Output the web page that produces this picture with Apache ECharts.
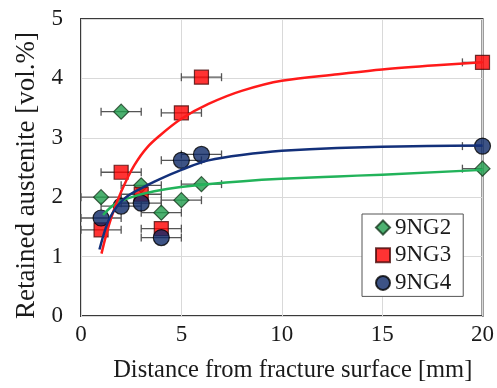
<!DOCTYPE html>
<html>
<head>
<meta charset="utf-8">
<script src="https://cdn.jsdelivr.net/npm/echarts@6/dist/echarts.min.js"></script>
<style>
html,body{margin:0;padding:0;background:#fff;}
#chart{width:497px;height:388px;}
</style>
</head>
<body>
<div id="chart"></div>
<script>
// Measured data (distance from fracture surface [mm], retained austenite [vol.%])
const distances = [1, 2, 3, 4, 5, 6, 20];
const ng2 = [2.0, 3.44, 2.2, 1.74, 1.95, 2.22, 2.48];
const ng3 = [1.45, 2.42, 2.05, 1.47, 3.42, 4.02, 4.27];
const ng4 = [1.65, 1.85, 1.9, 1.32, 2.62, 2.72, 2.86];
const xErr = [1, 1, 1, 1, 1, 1, 1];

// Fitted trend curves
const fitNg2X = [1.1, 1.67, 2.33, 3.65, 4.96, 8.08, 10, 12.76, 15, 20];
const fitNg2Y = [1.7, 1.88, 1.98, 2.1, 2.17, 2.27, 2.31, 2.35, 2.38, 2.46];
const fitNg3X = [1.02, 1.5, 2, 2.66, 3.3, 3.9, 5, 6.35, 8, 10, 12.8, 15, 17.7, 20];
const fitNg3Y = [1.05, 1.65, 2.09, 2.54, 2.84, 3.03, 3.32, 3.57, 3.79, 3.96, 4.07, 4.15, 4.22, 4.27];
const fitNg4X = [0.92, 1.43, 2.17, 3.0, 3.9, 5, 6.35, 8, 10, 12.76, 15, 20];
const fitNg4Y = [1.12, 1.65, 1.98, 2.15, 2.3, 2.46, 2.62, 2.71, 2.78, 2.83, 2.85, 2.87];

const xTicks = [0, 5, 10, 15, 20];
const yTicks = [0, 1, 2, 3, 4, 5];

const FONT = '"Liberation Serif", "Times New Roman", serif';

function pts(xs, ys) { return xs.map((x, i) => [x, ys[i]]); }
function errData(ys) { return distances.map((d, i) => [d, ys[i], xErr[i]]); }

function errRender(params, api) {
  const x = api.value(0), y = api.value(1), e = api.value(2);
  const cs = params.coordSys;
  const p1 = api.coord([x - e, y]);
  const p2 = api.coord([x + e, y]);
  const xmin = cs.x, xmax = cs.x + cs.width;
  const a = Math.max(p1[0], xmin), b = Math.min(p2[0], xmax);
  const st = { stroke: '#555', lineWidth: 1.3 };
  const ch = [{ type: 'line', shape: { x1: a, y1: p1[1], x2: b, y2: p1[1] }, style: st }];
  const h = 4;
  if (p1[0] >= xmin - 0.5) ch.push({ type: 'line', shape: { x1: p1[0], y1: p1[1] - h, x2: p1[0], y2: p1[1] + h }, style: st });
  if (p2[0] <= xmax + 0.5) ch.push({ type: 'line', shape: { x1: p2[0], y1: p2[1] - h, x2: p2[0], y2: p2[1] + h }, style: st });
  return { type: 'group', children: ch };
}

// Smooth monotone cubic curve through the read-off fit points (mapped by the axes)
function splineRender(xs, ys, color) {
  return function (params, api) {
    if (params.dataIndex !== 0) return null;
    const P = xs.map((x, i) => api.coord([x, ys[i]]));
    const n = P.length;
    const h = [], d = [], m = [];
    for (let i = 0; i < n - 1; i++) {
      h[i] = P[i + 1][0] - P[i][0];
      d[i] = (P[i + 1][1] - P[i][1]) / h[i];
    }
    for (let i = 1; i < n - 1; i++) {
      if (d[i - 1] * d[i] <= 0) m[i] = 0;
      else {
        const w1 = 2 * h[i] + h[i - 1], w2 = h[i] + 2 * h[i - 1];
        m[i] = (w1 + w2) / (w1 / d[i - 1] + w2 / d[i]);
      }
    }
    let m0 = ((2 * h[0] + h[1]) * d[0] - h[0] * d[1]) / (h[0] + h[1]);
    if (m0 * d[0] <= 0) m0 = 0; else if (Math.abs(m0) > 3 * Math.abs(d[0])) m0 = 3 * d[0];
    m[0] = m0;
    const k = n - 2;
    let mn = ((2 * h[k] + h[k - 1]) * d[k] - h[k] * d[k - 1]) / (h[k] + h[k - 1]);
    if (mn * d[k] <= 0) mn = 0; else if (Math.abs(mn) > 3 * Math.abs(d[k])) mn = 3 * d[k];
    m[n - 1] = mn;
    let path = 'M' + P[0][0] + ' ' + P[0][1];
    for (let i = 0; i < n - 1; i++) {
      const t = h[i] / 3;
      path += ' C' + (P[i][0] + t) + ' ' + (P[i][1] + m[i] * t) + ' ' +
        (P[i + 1][0] - t) + ' ' + (P[i + 1][1] - m[i + 1] * t) + ' ' +
        P[i + 1][0] + ' ' + P[i + 1][1];
    }
    return {
      type: 'path',
      shape: { pathData: path },
      style: { fill: null, stroke: color, lineWidth: 2.5 }
    };
  };
}

const chart = echarts.init(document.getElementById('chart'), null, { renderer: 'canvas' });

const styles = {
  ng2: { color: '#1f9e4c', borderColor: '#163a1e', borderWidth: 1.2 },
  ng3: { color: '#ff0000', borderColor: '#4a0a0a', borderWidth: 1.2 },
  ng4: { color: '#0c2866', borderColor: '#000', borderWidth: 1.2 }
};

chart.setOption({
  animation: false,
  backgroundColor: '#fff',
  textStyle: { fontFamily: FONT },
  grid: {
    left: 81, right: 10, top: 19, bottom: 69,
    show: true, borderColor: '#3a3a3a', borderWidth: 2, backgroundColor: 'transparent'
  },
  xAxis: {
    type: 'value', min: xTicks[0], max: xTicks[xTicks.length - 1], interval: 5,
    name: 'Distance from fracture surface [mm]',
    nameLocation: 'middle', nameGap: 42,
    nameTextStyle: { fontFamily: FONT, fontSize: 24.5, color: '#1a1a1a', padding: [0, 0, 0, 22] },
    axisLine: { show: false },
    axisTick: { show: false },
    axisLabel: { fontFamily: FONT, fontSize: 23, color: '#1a1a1a', margin: 7 },
    splitLine: { show: true, lineStyle: { color: '#d9d9d9', width: 1 } }
  },
  yAxis: {
    type: 'value', min: yTicks[0], max: yTicks[yTicks.length - 1], interval: 1,
    name: 'Retained austenite [vol.%]',
    nameLocation: 'middle', nameGap: 37,
    nameTextStyle: { fontFamily: FONT, fontSize: 27, color: '#1a1a1a', padding: [0, 16, 0, 0] },
    axisLine: { show: false },
    axisTick: { show: false },
    axisLabel: { fontFamily: FONT, fontSize: 23, color: '#1a1a1a', margin: 18 },
    splitLine: { show: true, lineStyle: { color: '#d9d9d9', width: 1 } }
  },
  legend: {
    data: ['9NG2', '9NG3', '9NG4'],
    orient: 'vertical',
    left: 362, top: 214,
    padding: [2, 12, 2, 13],
    itemWidth: 14, itemHeight: 14, itemGap: 4.7,
    borderColor: '#555', borderWidth: 1, backgroundColor: '#fff',
    textStyle: { fontFamily: FONT, fontSize: 23, lineHeight: 23, color: '#1a1a1a' }
  },
  series: [
    { type: 'custom', name: 'err2', renderItem: errRender, data: errData(ng2), z: 1, silent: true },
    { type: 'custom', name: 'err3', renderItem: errRender, data: errData(ng3), z: 1, silent: true },
    { type: 'custom', name: 'err4', renderItem: errRender, data: errData(ng4), z: 1, silent: true },
    { type: 'scatter', name: '9NG2', symbol: 'diamond', symbolSize: [15, 15], itemStyle: styles.ng2, data: pts(distances, ng2), z: 2 },
    { type: 'scatter', name: '9NG3', symbol: 'rect', symbolSize: 14, itemStyle: styles.ng3, data: pts(distances, ng3), z: 3 },
    { type: 'scatter', name: '9NG4', symbol: 'circle', symbolSize: 16, itemStyle: styles.ng4, data: pts(distances, ng4), z: 4 },
    { type: 'custom', name: 'fit2', renderItem: splineRender(fitNg2X, fitNg2Y, '#22b35a'), data: pts(fitNg2X, fitNg2Y), z: 5, silent: true },
    { type: 'custom', name: 'fit3', renderItem: splineRender(fitNg3X, fitNg3Y, '#ff1a1a'), data: pts(fitNg3X, fitNg3Y), z: 5, silent: true },
    { type: 'custom', name: 'fit4', renderItem: splineRender(fitNg4X, fitNg4Y, '#13307a'), data: pts(fitNg4X, fitNg4Y), z: 5, silent: true }
  ]
});
</script>
</body>
</html>
